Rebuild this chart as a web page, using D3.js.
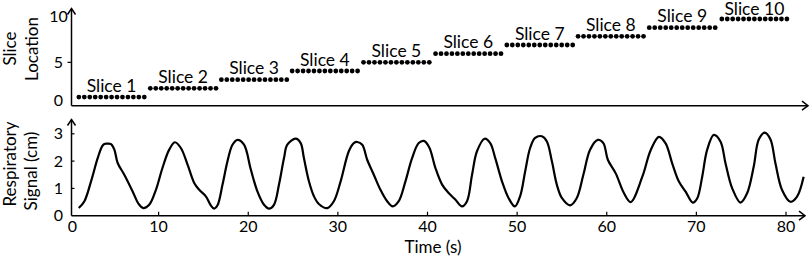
<!DOCTYPE html>
<html>
<head>
<meta charset="utf-8">
<script src="https://cdn.jsdelivr.net/npm/d3@7"></script>
<style>
  html, body { margin: 0; padding: 0; background: #fff; }
  svg { display: block; font-family: Lato, "Open Sans", sans-serif; }
</style>
</head>
<body>
<svg id="chart" width="810" height="259"></svg>
<script>
// slice acquisition: location (1..10), start/end time (s) of each slice block
const sliceLocation = [1, 2, 3, 4, 5, 6, 7, 8, 9, 10];
const sliceStart = [1.1, 9.07, 17.0, 24.9, 32.86, 40.9, 48.85, 56.8, 64.74, 72.84];
const sliceEnd = [8.4, 16.4, 24.3, 32.2, 40.2, 48.2, 56.2, 64.1, 72.1, 80.1];
const dotsPerSlice = 13;

// respiratory trace (time in s, signal in cm)
const respTime = [1.09, 1.72, 2.46, 3.2, 3.69, 3.94, 4.3, 4.69, 5.06, 5.43, 6.17, 7.1, 7.77, 8.29, 8.95,
  9.7, 10.4, 11.18, 11.81, 12.48, 13.23, 13.97, 14.53, 15.27, 15.82, 16.19, 16.57, 17.13, 17.68, 18.24,
  18.8, 19.53, 20.28, 21.02, 21.76, 22.32, 22.87, 23.43, 23.99, 24.36, 25.29, 25.85, 26.21, 26.77, 27.33,
  27.88, 28.82, 29.55, 30.3, 31.22, 31.78, 32.16, 32.72, 33.27, 34.01, 34.75, 35.5, 36.12, 36.79, 37.54,
  38.28, 39.02, 39.6, 40.2, 40.88, 41.63, 42.36, 43.1, 43.85, 44.41, 44.97, 45.52, 46.37, 47.0, 47.56,
  48.31, 49.04, 49.75, 50.34, 50.9, 51.45, 52.01, 52.76, 53.32, 53.88, 54.43, 54.99, 55.91, 56.66, 57.39,
  58.14, 59.0, 59.62, 60.12, 61.0, 61.93, 62.67, 63.97, 64.9, 65.82, 66.57, 67.3, 68.05, 68.8, 69.6,
  70.1, 70.65, 71.2, 71.95, 72.7, 73.25, 74.0, 74.92, 75.66, 76.4, 76.96, 77.63, 78.27, 78.82, 79.56,
  80.5, 81.23, 81.97];
const respSignal = [0.28, 0.53, 1.26, 2.11, 2.54, 2.63, 2.64, 2.62, 2.42, 1.93, 1.5, 0.89, 0.43, 0.28, 0.4,
  0.95, 1.72, 2.42, 2.69, 2.48, 1.87, 1.2, 0.95, 0.71, 0.38, 0.26, 0.38, 1.14, 1.99, 2.6,
  2.78, 2.6, 1.7, 0.89, 0.4, 0.26, 0.4, 1.14, 2.11, 2.6, 2.82, 2.66, 2.11, 1.26, 0.71,
  0.43, 0.28, 0.53, 1.25, 2.36, 2.66, 2.7, 2.6, 2.05, 1.5, 0.95, 0.53, 0.34, 0.53, 1.26,
  2.11, 2.66, 2.74, 2.5, 1.75, 1.14, 0.83, 0.59, 0.34, 0.53, 1.5, 2.36, 2.82, 2.66, 2.11,
  1.26, 0.65, 0.34, 0.72, 1.63, 2.48, 2.85, 2.91, 2.72, 1.99, 1.14, 0.65, 0.38, 0.65, 1.5,
  2.42, 2.78, 2.66, 2.05, 1.55, 0.82, 0.5, 1.43, 2.4, 2.89, 2.65, 1.92, 1.25, 0.88, 0.48,
  0.64, 1.43, 2.41, 2.96, 2.71, 1.92, 1.0, 0.48, 0.82, 1.8, 2.79, 3.04, 2.79, 1.92, 0.94,
  0.51, 0.7, 1.43];

const topTicks = [0, 5, 10];
const bottomYTicks = [0, 1, 2, 3];
const timeTicks = [0, 10, 20, 30, 40, 50, 60, 70, 80];

const svg = d3.select('#chart');

const x = d3.scaleLinear().domain([0, 80]).range([69, 786]);
const yTop = d3.scaleLinear().domain([0, 10]).range([105.7, 19]);
const yBot = d3.scaleLinear().domain([0, 3]).range([215.7, 133.8]);
const axisX = 71.5;

// open arrowhead helper
function arrow(g, tx, ty, dir) {
  const p = dir === 'up'
    ? [[tx - 4, ty + 6], [tx, ty], [tx + 4, ty + 6]]
    : [[tx - 6, ty - 4.5], [tx, ty], [tx - 6, ty + 4.5]];
  g.append('path').attr('d', d3.line()(p))
    .attr('fill', 'none').attr('stroke', '#000').attr('stroke-width', 1.5);
}

// ---------- top panel: slice location ----------
const topG = svg.append('g');
topG.append('line').attr('x1', axisX).attr('x2', 808).attr('y1', yTop(0)).attr('y2', yTop(0))
  .attr('stroke', '#000').attr('stroke-width', 1.5);
topG.append('line').attr('x1', axisX).attr('x2', axisX).attr('y1', yTop(0)).attr('y2', 8.5)
  .attr('stroke', '#000').attr('stroke-width', 1.5);
arrow(topG, 808, yTop(0), 'right');
arrow(topG, axisX, 8.5, 'up');

topG.selectAll('.ytick').data([5]).enter().append('line')
  .attr('x1', axisX - 4).attr('x2', axisX).attr('y1', d => yTop(d)).attr('y2', d => yTop(d))
  .attr('stroke', '#000').attr('stroke-width', 1.2);
topG.selectAll('.ylab').data(topTicks).enter().append('text')
  .attr('x', 58.5)
  .attr('y', d => Math.min(yTop(d), 100.5) - (d === 10 ? 2.5 : 0))
  .attr('dy', '0.35em').attr('text-anchor', 'middle')
  .attr('font-size', 16).text(d => d);

const dots = [];
sliceLocation.forEach((loc, i) => {
  const times = d3.range(dotsPerSlice).map(k =>
    sliceStart[i] + (sliceEnd[i] - sliceStart[i]) * k / (dotsPerSlice - 1));
  times.forEach(t => dots.push({ t, loc }));
});
topG.selectAll('circle').data(dots).enter().append('circle')
  .attr('cx', d => x(d.t)).attr('cy', d => yTop(d.loc)).attr('r', 2.4).attr('fill', '#000');

topG.selectAll('.slab').data(sliceLocation).enter().append('text')
  .attr('x', (d, i) => x((sliceStart[i] + sliceEnd[i]) / 2))
  .attr('y', d => Math.max(yTop(d) - 5.5, 14.5))
  .attr('text-anchor', 'middle').attr('font-size', 17.5)
  .text(d => 'Slice ' + d);

topG.append('text').attr('transform', 'translate(10,48.5) rotate(-90)')
  .attr('text-anchor', 'middle').attr('dy', '0.35em').attr('font-size', 17).text('Slice');
topG.append('text').attr('transform', 'translate(32,49) rotate(-90)')
  .attr('text-anchor', 'middle').attr('dy', '0.35em').attr('font-size', 17).text('Location');

// ---------- bottom panel: respiratory signal ----------
const botG = svg.append('g');
botG.append('line').attr('x1', axisX).attr('x2', 805).attr('y1', yBot(0)).attr('y2', yBot(0))
  .attr('stroke', '#000').attr('stroke-width', 1.5);
botG.append('line').attr('x1', axisX).attr('x2', axisX).attr('y1', yBot(0)).attr('y2', 119.5)
  .attr('stroke', '#000').attr('stroke-width', 1.5);
arrow(botG, 805, yBot(0), 'right');
arrow(botG, axisX, 119.5, 'up');

botG.selectAll('.xt').data(timeTicks.filter(d => d > 0)).enter().append('line')
  .attr('x1', d => x(d)).attr('x2', d => x(d)).attr('y1', yBot(0)).attr('y2', yBot(0) - 4)
  .attr('stroke', '#000').attr('stroke-width', 1.2);
botG.selectAll('.xl').data(timeTicks).enter().append('text')
  .attr('x', d => d === 0 ? x(d) + 3.5 : x(d))
  .attr('y', 232).attr('text-anchor', 'middle').attr('font-size', 16).text(d => d);

botG.selectAll('.yt').data(bottomYTicks.filter(d => d > 0)).enter().append('line')
  .attr('x1', axisX).attr('x2', axisX + 3).attr('y1', d => yBot(d)).attr('y2', d => yBot(d))
  .attr('stroke', '#000').attr('stroke-width', 1.2);
botG.selectAll('.yl').data(bottomYTicks).enter().append('text')
  .attr('x', 58.5).attr('y', d => yBot(d)).attr('dy', '0.35em')
  .attr('text-anchor', 'middle').attr('font-size', 16).text(d => d);

const line = d3.line()
  .x((d, i) => x(respTime[i]))
  .y((d, i) => yBot(respSignal[i]))
  .curve(d3.curveCatmullRom.alpha(0.5));
botG.append('path').datum(respTime).attr('d', line)
  .attr('fill', 'none').attr('stroke', '#000').attr('stroke-width', 2.2)
  .attr('stroke-linejoin', 'round');

botG.append('text').attr('x', 433).attr('y', 253).attr('text-anchor', 'middle')
  .attr('font-size', 17).text('Time (s)');
botG.append('text').attr('transform', 'translate(10,164) rotate(-90)')
  .attr('text-anchor', 'middle').attr('dy', '0.35em').attr('font-size', 17).text('Respiratory');
botG.append('text').attr('transform', 'translate(31,171) rotate(-90)')
  .attr('text-anchor', 'middle').attr('dy', '0.35em').attr('font-size', 17).text('Signal (cm)');
</script>
</body>
</html>
